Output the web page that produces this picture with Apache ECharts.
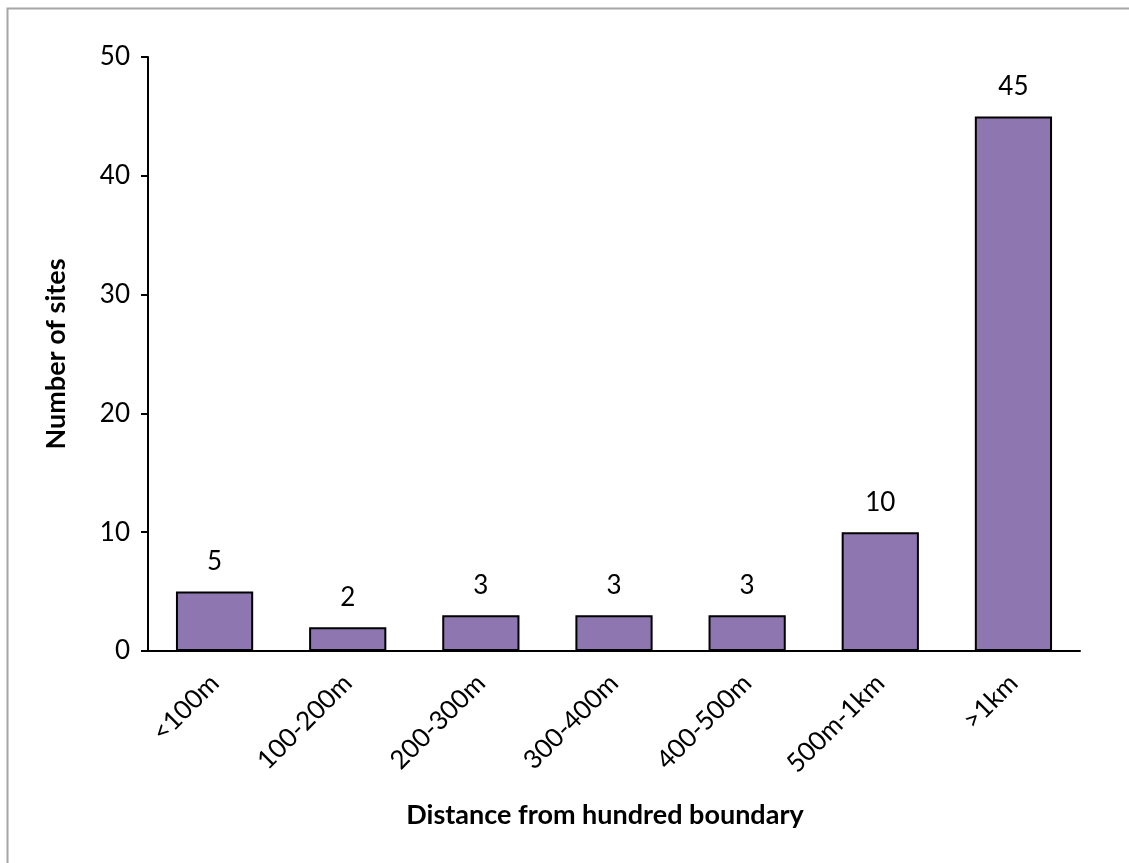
<!DOCTYPE html>
<html><head><meta charset="utf-8">
<script src="https://cdn.jsdelivr.net/npm/echarts@6/dist/echarts.min.js"></script>
<style>html,body{margin:0;padding:0;background:#fff}#c{width:1129px;height:863px}</style>
</head><body><div id="c"></div>
<script>
const categories = ['<100m','100-200m','200-300m','300-400m','400-500m','500m-1km','>1km'];
const sites = [5, 2, 3, 3, 3, 10, 45];
const yTicks = [0, 10, 20, 30, 40, 50];

const FONT = 'Lato, "Open Sans", sans-serif';
const chart = echarts.init(document.getElementById('c'));
chart.setOption({
  animation: false,
  backgroundColor: '#fff',
  textStyle: {fontFamily: FONT},
  graphic: [{
    type: 'rect', left: 5, top: 6,
    shape: {width: 1200, height: 1000},
    style: {fill: 'none', stroke: '#a6a6a6', lineWidth: 2}
  }, {
    type: 'text', x: 605, y: 815,
    style: {text: 'Distance from hundred boundary', font: 'bold 27px ' + FONT, fill: '#000', align: 'center', verticalAlign: 'middle'}
  }],
  grid: {left: 148, right: 49, top: 57, bottom: 212, containLabel: false},
  xAxis: {
    type: 'category', data: categories,
    axisLine: {lineStyle: {color: '#000', width: 2}},
    axisTick: {alignWithLabel: true, length: 7, lineStyle: {color: '#000', width: 2}},
    axisLabel: {rotate: 45, color: '#000', fontSize: 26, margin: 28, fontFamily: FONT}
  },
  yAxis: {
    type: 'value', min: yTicks[0], max: yTicks[yTicks.length-1], interval: 10,
    name: 'Number of sites', nameLocation: 'middle', nameGap: 78, nameRotate: 90,
    nameTextStyle: {fontWeight: 'bold', fontSize: 27, color: '#000', fontFamily: FONT},
    axisLine: {show: true, lineStyle: {color: '#000', width: 2}},
    axisTick: {show: true, length: 7, lineStyle: {color: '#000', width: 2}},
    axisLabel: {color: '#000', fontSize: 26, margin: 18, fontFamily: FONT},
    splitLine: {show: false}
  },
  series: [{
    type: 'bar', data: sites, barWidth: '58%',
    itemStyle: {color: '#8e77b0', borderColor: '#000', borderWidth: 2},
    label: {show: true, position: 'top', distance: 17, color: '#000', fontSize: 26, fontFamily: FONT}
  }]
});
</script></body></html>
